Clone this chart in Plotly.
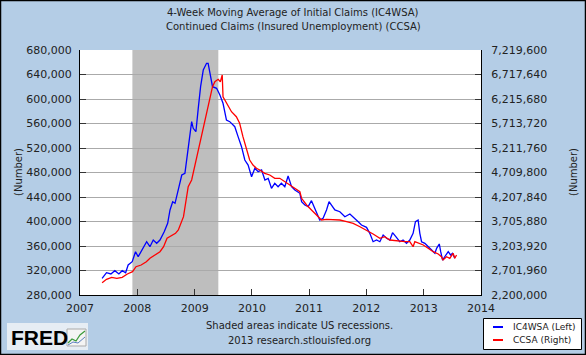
import plotly.graph_objects as go

# ---------------- data ----------------
ic_dates = ["2007-05-22","2007-06-19","2007-07-17","2007-08-11","2007-09-06","2007-09-27","2007-10-19","2007-11-04","2007-11-30","2007-12-21",
            "2008-01-07","2008-02-02","2008-03-01","2008-03-22","2008-04-12","2008-05-04","2008-05-25","2008-06-21","2008-07-13","2008-07-28",
            "2008-08-14","2008-08-29","2008-09-19","2008-10-11","2008-10-31","2008-11-21","2008-12-13","2008-12-23","2009-01-09","2009-01-24",
            "2009-02-08","2009-02-25","2009-03-18","2009-03-28","2009-04-12","2009-04-25","2009-05-21","2009-06-11","2009-07-01","2009-07-23",
            "2009-08-13","2009-09-14","2009-10-05","2009-10-27","2009-11-17","2009-12-08","2009-12-30","2010-01-20","2010-02-10","2010-03-04",
            "2010-03-25","2010-04-15","2010-05-06","2010-05-27","2010-06-17","2010-07-08","2010-07-30","2010-08-20","2010-09-11","2010-10-02",
            "2010-11-03","2010-11-14","2010-12-05","2010-12-26","2011-01-16","2011-01-31","2011-02-17","2011-03-10","2011-03-31","2011-04-22",
            "2011-05-08","2011-05-24","2011-06-14","2011-07-16","2011-08-17","2011-09-18","2011-10-20","2011-11-10","2011-12-01","2012-01-02",
            "2012-01-23","2012-02-13","2012-03-06","2012-03-27","2012-04-17","2012-05-09","2012-05-30","2012-06-16","2012-07-07","2012-08-01",
            "2012-08-22","2012-09-13","2012-10-04","2012-10-25","2012-11-09","2012-11-26","2012-12-07","2012-12-18","2013-01-08","2013-01-29",
            "2013-02-20","2013-03-13","2013-03-24","2013-04-10","2013-04-19","2013-05-01","2013-05-22","2013-06-06","2013-06-21","2013-07-03",
            "2013-07-18"]
ic4wsa = [307000,316400,314300,319700,314300,319700,316400,329000,334400,350700,
          342500,353500,367000,358900,369800,364400,369800,383300,397100,418800,
          432300,429700,451400,475900,478700,516700,563000,552200,546600,584800,
          620100,647300,658300,658300,636400,620100,617500,606500,593000,565700,
          563000,554800,538500,522100,500400,492200,473100,486900,481300,484100,
          467800,470500,454200,462400,456800,462400,456800,474300,456800,451400,
          446000,432300,426900,424200,434000,424200,413400,402400,405200,418800,
          432300,426900,418800,416000,407800,412200,405200,399700,394300,390500,
          380700,367000,369800,367000,378000,372600,369800,381700,375200,367000,
          369800,364400,369800,380700,399700,402400,380700,367000,364400,358900,
          353500,348100,356200,363300,350700,337100,345300,350700,345300,348100,
          339900]

cc_dates = ["2007-05-22","2007-06-19","2007-07-22","2007-08-24","2007-09-27","2007-10-30","2007-12-02","2007-12-24","2008-01-26","2008-02-28",
            "2008-03-22","2008-04-23","2008-05-25","2008-06-17","2008-07-09","2008-09-01","2008-09-19","2008-10-22","2008-11-21","2008-12-13",
            "2009-01-05","2009-02-03","2009-02-25","2009-03-18","2009-04-08","2009-04-25","2009-05-10","2009-05-31","2009-06-14","2009-06-26",
            "2009-07-01","2009-07-23","2009-08-13","2009-08-24","2009-09-24","2009-10-15","2009-11-05","2009-11-27","2009-12-18","2010-01-08",
            "2010-01-30","2010-02-20","2010-03-24","2010-04-25","2010-05-27","2010-06-28","2010-07-30","2010-09-01","2010-10-02","2010-11-03",
            "2010-11-14","2010-12-16","2011-01-16","2011-02-17","2011-03-21","2011-04-22","2011-06-03","2011-07-16","2011-08-28","2011-10-09",
            "2011-11-21","2012-01-02","2012-02-13","2012-03-27","2012-04-27","2012-05-30","2012-07-01","2012-08-01","2012-09-03","2012-10-04",
            "2012-10-25","2012-11-05","2012-11-26","2012-12-29","2013-01-29","2013-03-02","2013-04-03","2013-04-24","2013-05-04","2013-05-26",
            "2013-06-16","2013-07-07","2013-07-18","2013-07-29"]
ccsa = [2452000,2521700,2562600,2542200,2562600,2630200,2677400,2779800,2814600,2882300,
        2951900,3019500,3087100,3189600,3361700,3464100,3531700,3804200,4418900,4556100,
        4898300,5273200,5648100,5955500,6262800,6467700,6570100,6619300,6570100,6707000,
        6262800,6127500,6025100,5955500,5853000,5717800,5443300,5205600,4965900,4863400,
        4795800,4761000,4693400,4658600,4591000,4591000,4521300,4453700,4386100,4316400,
        4181200,4043900,3941500,3839000,3736600,3751000,3736600,3736600,3701800,3669000,
        3599300,3531700,3449800,3360000,3394500,3326800,3312500,3312500,3292000,3292000,
        3189600,3292000,3259200,3224400,3156800,3087100,3040000,2984700,2917100,2984700,
        2951900,3054400,2951900,3019500]

recession = ["2007-12-01", "2009-06-01"]
left_ticks = [280000, 320000, 360000, 400000, 440000, 480000, 520000, 560000, 600000, 640000, 680000]
right_ticks = [2200000, 2701960, 3203920, 3705880, 4207840, 4709800, 5211760, 5713720, 6215680, 6717640, 7219600]
x_range = ["2007-01-01", "2014-01-01"]

title_lines = ["4-Week Moving Average of Initial Claims (IC4WSA)",
               "Continued Claims (Insured Unemployment) (CCSA)"]
legend_labels = ["IC4WSA (Left)", "CCSA (Right)"]
footer_lines = ["Shaded areas indicate US recessions.", "2013 research.stlouisfed.org"]

# ---------------- layout helpers ----------------
W, H = 586, 355
ML, MR, MT, MB = 80, 105, 50, 60
PW, PH = W - ML - MR, H - MT - MB
def px(x):
    return (x - ML) / PW
def py(y):
    return (H - MB - y) / PH

BG = "#B4CDE6"
FONT = "DejaVu Sans"
BLUE = "#0000FF"
RED = "#FF0000"

fig = go.Figure()
fig.add_trace(go.Scatter(x=ic_dates, y=ic4wsa, mode="lines", name=legend_labels[0],
                         line=dict(color=BLUE, width=1.3), yaxis="y"))
fig.add_trace(go.Scatter(x=cc_dates, y=ccsa, mode="lines", name=legend_labels[1],
                         line=dict(color=RED, width=1.3), yaxis="y2"))

shapes = []
# recession shading
shapes.append(dict(type="rect", xref="x", yref="paper", x0=recession[0], x1=recession[1],
                   y0=0, y1=1, fillcolor="#BEBEBE", line=dict(width=0), layer="between"))
# outer frame
shapes.append(dict(type="rect", xref="paper", yref="paper", x0=px(0.5), x1=px(W - 0.5),
                   y0=py(H - 0.5), y1=py(0.5), line=dict(color="black", width=1.5), layer="above"))
# FRED logo background and icon
shapes.append(dict(type="rect", xref="paper", yref="paper", x0=px(7), x1=px(88),
                   y0=py(350), y1=py(323), fillcolor="#E6EDF4", line=dict(width=0), layer="above"))
shapes.append(dict(type="rect", xref="paper", yref="paper", x0=px(67), x1=px(86),
                   y0=py(346), y1=py(329), fillcolor="#F4F4F4", line=dict(color="#AAAAAA", width=1), layer="above"))
shapes.append(dict(type="path", xref="paper", yref="paper",
                   path="M {} {} L {} {} L {} {} L {} {} L {} {}".format(
                       px(68), py(343), px(72), py(339), px(76), py(341), px(80), py(335), px(85), py(331)),
                   line=dict(color="#3A9A3A", width=1.2), layer="above"))
shapes.append(dict(type="path", xref="paper", yref="paper",
                   path="M {} {} L {} {} L {} {} L {} {}".format(
                       px(68), py(345), px(73), py(342), px(78), py(343), px(85), py(337)),
                   line=dict(color="#5A7FC0", width=1), layer="above"))
# legend box
shapes.append(dict(type="rect", xref="paper", yref="paper", x0=px(483.5), x1=px(581.5),
                   y0=py(349.5), y1=py(318.5), fillcolor="white", line=dict(color="black", width=1), layer="above"))
shapes.append(dict(type="line", xref="paper", yref="paper", x0=px(493), x1=px(503),
                   y0=py(327), y1=py(327), line=dict(color=BLUE, width=2), layer="above"))
shapes.append(dict(type="line", xref="paper", yref="paper", x0=px(493), x1=px(503),
                   y0=py(340), y1=py(340), line=dict(color=RED, width=2), layer="above"))

annotations = []
def note(x, y, text, size=10, anchor="center", angle=0, family=FONT, color="#222222"):
    annotations.append(dict(xref="paper", yref="paper", x=px(x), y=py(y), text=text, textangle=angle,
                            showarrow=False, font=dict(family=family, size=size, color=color),
                            xanchor=anchor, yanchor="middle"))

note(W / 2, 13, title_lines[0])
note(W / 2, 27, title_lines[1])
note(18, 172, "(Number)", angle=-90)
note(573, 172, "(Number)", angle=-90)
note(299, 325, footer_lines[0])
note(299, 340, footer_lines[1])
note(9, 337, "<b>FRED</b>", size=21, anchor="left", family="Liberation Sans", color="black")
note(511, 327, legend_labels[0], size=9, anchor="left")
note(511, 340, legend_labels[1], size=9, anchor="left")

tickfont = dict(family=FONT, size=11, color="#222222")
fig.update_layout(
    width=W, height=H,
    margin=dict(l=ML, r=MR, t=MT, b=MB, pad=0),
    paper_bgcolor=BG, plot_bgcolor="white",
    showlegend=False,
    shapes=shapes, annotations=annotations,
    xaxis=dict(type="date", range=x_range, dtick="M12", tick0="2007-01-01", tickformat="%Y",
               showgrid=False, zeroline=False, showline=True, linecolor="black", linewidth=1,
               ticks="inside", ticklen=6, tickcolor="#333333", tickfont=tickfont,
               ticklabelstandoff=3),
    yaxis=dict(range=[left_ticks[0], left_ticks[-1]], tickvals=left_ticks, tickformat=",d",
               showgrid=True, gridcolor="#AAAAAA", gridwidth=1, zeroline=False,
               showline=True, linecolor="black", linewidth=1,
               ticks="inside", ticklen=6, tickcolor="#333333", tickfont=tickfont,
               ticklabelstandoff=5),
    yaxis2=dict(range=[right_ticks[0], right_ticks[-1]], tickvals=right_ticks, tickformat=",d",
                overlaying="y", side="right", showgrid=False, zeroline=False,
                showline=True, linecolor="black", linewidth=1,
                ticks="inside", ticklen=6, tickcolor="#333333", tickfont=tickfont,
                ticklabelstandoff=7),
)

fig.write_html("out.html", config={"displayModeBar": False},
               post_script="document.body.style.margin='0';document.body.style.overflow='hidden';")
